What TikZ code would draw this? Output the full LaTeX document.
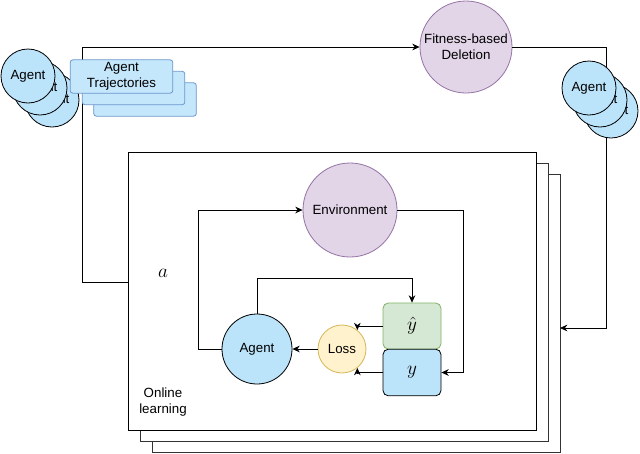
\documentclass[tikz,border=0pt]{standalone}
\usepackage{fontspec}
\setmainfont{Liberation Sans}
\usetikzlibrary{arrows.meta,positioning}

\definecolor{agentblue}{RGB}{187,227,250}
\definecolor{trajline}{RGB}{108,150,205}
\definecolor{purplefill}{RGB}{225,213,231}
\definecolor{purpleline}{RGB}{150,115,166}
\definecolor{greenfill}{RGB}{213,232,212}
\definecolor{greenline}{RGB}{130,179,102}
\definecolor{lossfill}{RGB}{255,242,204}
\definecolor{lossline}{RGB}{214,182,86}

\begin{document}
\begin{tikzpicture}[
  x=0.75pt, y=-0.75pt, >={Stealth[length=5.5pt,width=5pt]},
  line width=0.6pt, every node/.style={font=\normalsize},
  agent/.style={circle, draw, fill=agentblue, minimum size=40.5pt, inner sep=0pt},
  traj/.style={draw=trajline, fill=agentblue!85!white, rounded corners=2pt,
               minimum width=77pt, minimum height=25pt, align=center, inner sep=1pt},
  stage/.style={draw, fill=white, minimum width=306pt, minimum height=209pt},
  proc/.style={circle, draw=purpleline, fill=purplefill, inner sep=0pt, align=center},
  target/.style={draw, rounded corners=4pt, minimum width=43.5pt, minimum height=34.5pt,
                 font=\fontsize{15}{17}\selectfont}
]
  \useasboundingbox (0,0) rectangle (640,454);

  % online learning stack
  \node[stage, draw=black!80] (onl3) at (356,313.5) {};
  \node[stage, draw=black!80] (onl2) at (344,302.5) {};
  \node[stage] (onl1) at (332,291.5) {};

  \node[proc, minimum size=69pt] (fit) at (466,47) {Fitness-based\\Deletion};
  \coordinate (aout) at (128,282);
  \coordinate (ain) at (560,328);

  \draw[->] (aout) -- ++(-46,0) |- (fit.west);
  \draw[->] (fit.east) -- ++(94,0) |- (ain);

  % agent populations
  \node[agent] (pa3) at (52,100) {Agent};
  \node[agent] (pa2) at (40,88) {Agent};
  \node[agent] (pa1) at (28,76) {Agent};
  \node[traj] (tr3) at (145,99.5) {};
  \node[traj] (tr2) at (133.5,88) {};
  \node[traj] (tr1) at (121.5,76.5) {Agent\\Trajectories};
  \node[agent] (pb3) at (611,111) {Agent};
  \node[agent] (pb2) at (600,100) {Agent};
  \node[agent] (pb1) at (589,88) {Agent};

  % inner loop
  \node[proc, minimum size=70.5pt] (env) at (350,210) {Environment};
  \node[agent, minimum size=52.5pt] (agin) at (257,349) {Agent};
  \node[circle, draw=lossline, fill=lossfill, minimum size=36pt, inner sep=0pt] (loss) at (342,349) {Loss};
  \node[target, draw=greenline, fill=greenfill] (yhat) at (412,326) {$\hat{y}$};
  \node[target, fill=agentblue, minimum height=35pt] (y) at (412,372.5) {$y$};
  \node[font=\fontsize{15}{17}\selectfont] (act) at (163,273) {$a$};
  \node[align=center] (onl) at (163,402) {Online\\learning};

  \draw[->] (agin.west) -- ++(-23,0) |- (env.west);
  \draw[->] (env.east) -- ++(66,0) |- (y.east);
  \draw[->] (agin.north) -- ++(0,-35) -| (yhat.north);
  \draw[->] (yhat.west) -| (loss.51);
  \draw[->] (y.west) -| (loss.-51);
  \draw[->] (loss.west) -- (agin.east);
\end{tikzpicture}
\end{document}
